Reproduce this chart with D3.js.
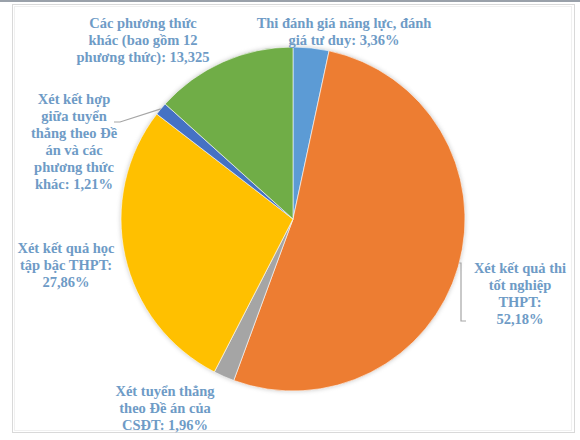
<!DOCTYPE html>
<html>
<head>
<meta charset="utf-8">
<script src="https://cdn.jsdelivr.net/npm/d3@7"></script>
<style>
  body { margin: 0; background: #fff; }
  text { font-family: "Liberation Serif", "Times New Roman", serif; font-weight: bold; }
</style>
</head>
<body>
<script>
// du lieu: cac phuong thuc xet tuyen
const categories = [
  "Thi đánh giá năng lực, đánh giá tư duy",
  "Xét kết quả thi tốt nghiệp THPT",
  "Xét tuyển thẳng theo Đề án của CSĐT",
  "Xét kết quả học tập bậc THPT",
  "Xét kết hợp giữa tuyển thẳng theo Đề án và các phương thức khác",
  "Các phương thức khác (bao gồm 12 phương thức)"
]
const values = [3.36, 52.18, 1.96, 27.86, 1.21, 13.325]
const valueLabels = ["3,36%", "52,18%", "1,96%", "27,86%", "1,21%", "13,325"]
const colors = ["#5b9bd5", "#ed7d31", "#a5a5a5", "#ffc000", "#4472c4", "#70ad47"]

// cach xuong dong cua nhan
const labelLines = [
  ["Thi đánh giá năng lực, đánh", "giá tư duy: "],
  ["Xét kết quả thi", "tốt nghiệp", "THPT:", ""],
  ["Xét tuyển thẳng", "theo Đề án của", "CSĐT: "],
  ["Xét kết quả học", "tập bậc THPT:", ""],
  ["Xét kết hợp", "giữa tuyển", "thẳng theo Đề", "án và các", "phương thức", "khác: "],
  ["Các phương thức", "khác (bao gồm 12", "phương thức): "]
]
// vi tri nhan (tam x, baseline dong dau)
const labelPos = [[344, 28], [520, 273], [165, 396], [66, 253], [74, 104], [143, 28]]

const width = 580, height = 440
const cx = 293, cy = 219, r = 172

const svg = d3.select("body")
        .append("svg")
        .attr("width", width)
        .attr("height", height)

// khung
svg.append("rect")
        .attr("x", 0).attr("y", 0)
        .attr("width", width).attr("height", 2)
        .attr("fill", "#9aa1aa")
svg.append("rect")
        .attr("x", 12.5).attr("y", 4.5)
        .attr("width", 562).attr("height", 428)
        .attr("fill", "none")
        .attr("stroke", "#d9d9d9")
svg.append("rect")
        .attr("x", 14.5).attr("y", 6.5)
        .attr("width", 557).attr("height", 424)
        .attr("fill", "none")
        .attr("stroke", "#f0f0f0")

const defs = svg.append("defs")
const f = defs.append("filter").attr("id", "glow")
        .attr("x", "-10%").attr("y", "-10%").attr("width", "120%").attr("height", "120%")
f.append("feDropShadow")
        .attr("dx", 0).attr("dy", 0)
        .attr("stdDeviation", 2)
        .attr("flood-color", "#c8c8c8")

const pie = d3.pie().sort(null).value(d => d)
const arcs = pie(values)
const arc = d3.arc().innerRadius(0).outerRadius(r)

const g = svg.append("g")
        .attr("transform", `translate(${cx},${cy})`)
        .attr("filter", "url(#glow)")

g.selectAll("path")
        .data(arcs)
        .enter()
        .append("path")
                .attr("d", arc)
                .attr("fill", (d, i) => colors[i])
                .attr("stroke", "#fff")
                .attr("stroke-width", 0.6)

// duong dan nhan
const line = d3.line()
const yO = 263
const xO = cx + Math.sqrt(r * r - (yO - cy) * (yO - cy))
svg.append("path")
        .attr("d", line([[xO, yO], [461, yO], [461, 321], [466, 321]]))
        .attr("fill", "none")
        .attr("stroke", "#a6a6a6")
        .attr("stroke-width", 1.2)

const midSmall = (arcs[4].startAngle + arcs[4].endAngle) / 2
const pSmall = d3.pointRadial(midSmall, r)
svg.append("path")
        .attr("d", line([[114, 122], [120, 122], [cx + pSmall[0], cy + pSmall[1]]]))
        .attr("fill", "none")
        .attr("stroke", "#a6a6a6")
        .attr("stroke-width", 1.2)

// nhan
labelLines.forEach((lines, i) => {
        const t = svg.append("text")
                .attr("x", labelPos[i][0])
                .attr("y", labelPos[i][1])
                .attr("text-anchor", "middle")
                .attr("fill", "#6e9bc6")
                .attr("font-size", 14.5)
        lines.forEach((s, j) => {
                const last = j == lines.length - 1
                t.append("tspan")
                        .attr("x", labelPos[i][0])
                        .attr("dy", j == 0 ? 0 : 17)
                        .text(last ? s + valueLabels[i] : s)
        })
})
</script>
</body>
</html>
